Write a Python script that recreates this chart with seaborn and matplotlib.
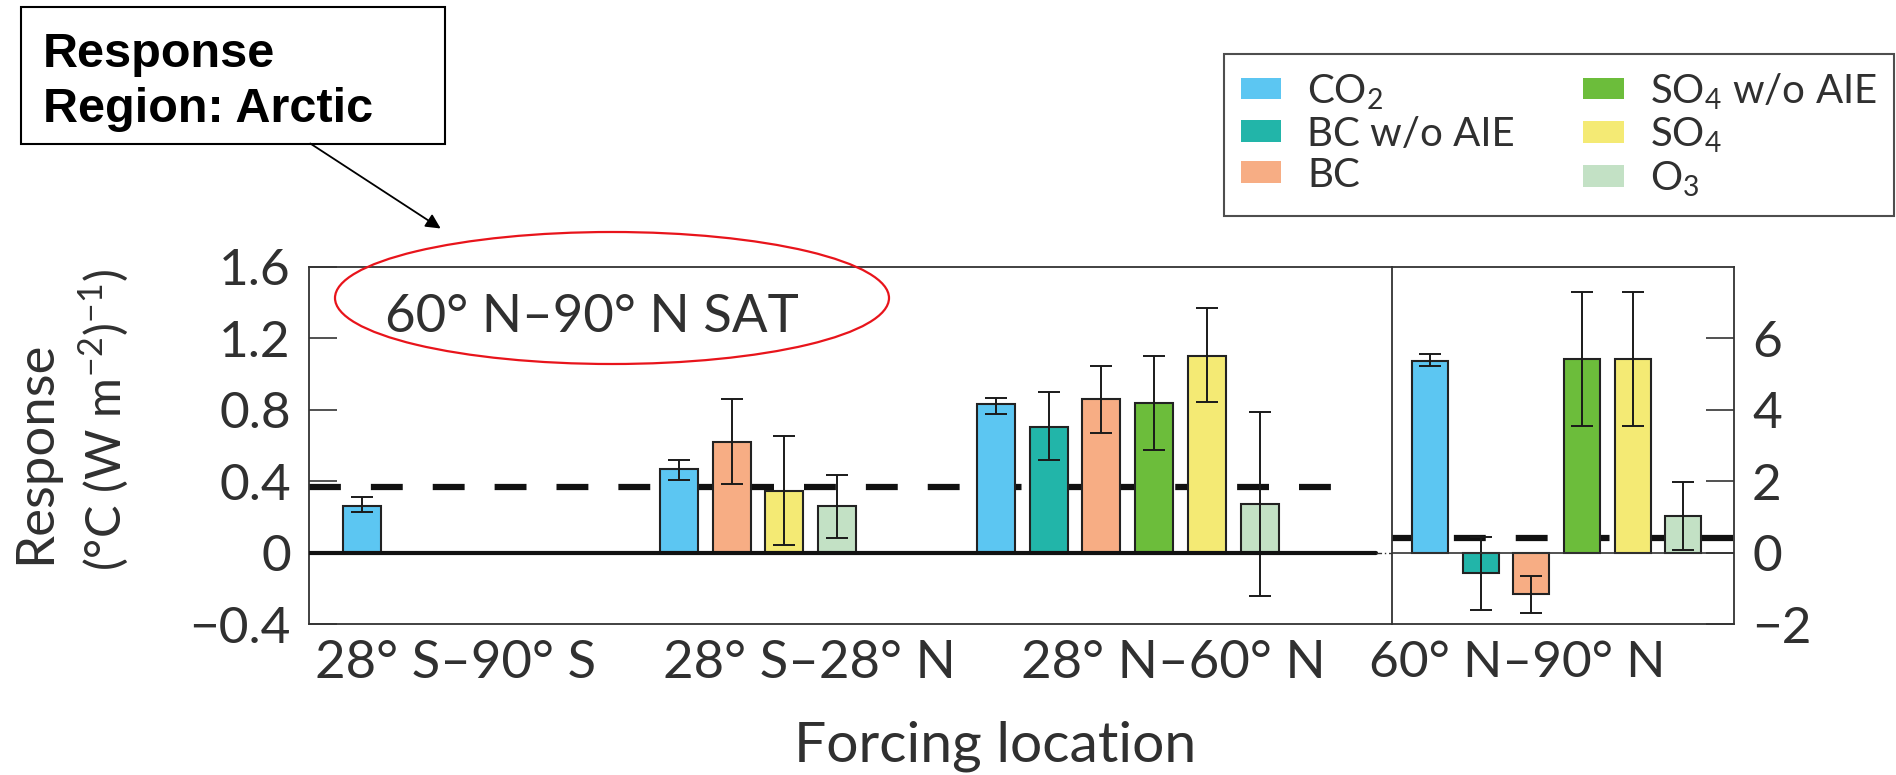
import numpy as np
import pandas as pd
import matplotlib
matplotlib.use("Agg")
import matplotlib.pyplot as plt
import seaborn as sns
from matplotlib.patches import Ellipse, FancyArrowPatch, Rectangle, Patch

# ---------------- data ----------------
series = ["CO2", "BC w/o AIE", "BC", "SO4 w/o AIE", "SO4", "O3"]
legend_labels = ["CO$_\\mathregular{2}$", "BC w/o AIE", "BC",
                 "SO$_\\mathregular{4}$ w/o AIE", "SO$_\\mathregular{4}$", "O$_\\mathregular{3}$"]
colors = ["#5cc6f2", "#22b5a9", "#f7ad84", "#6cbd3b", "#f4ea74", "#c3e1c5"]

regions = ["28° S–90° S", "28° S–28° N", "28° N–60° N", "60° N–90° N"]

# left panel (scale: °C (W m-2)-1)
left_group = [0, 1, 1, 1, 1, 2, 2, 2, 2, 2, 2]
left_series = ["CO2", "CO2", "BC", "SO4", "O3",
               "CO2", "BC w/o AIE", "BC", "SO4 w/o AIE", "SO4", "O3"]
left_value = [0.264, 0.466, 0.617, 0.344, 0.264, 0.829, 0.705, 0.857, 0.836, 1.099, 0.275]
left_low = [0.226, 0.404, 0.383, 0.043, 0.084, 0.776, 0.516, 0.668, 0.574, 0.845, -0.24]
left_high = [0.312, 0.516, 0.857, 0.655, 0.434, 0.866, 0.896, 1.045, 1.10, 1.37, 0.785]
left_mean = 0.368

# right panel (60N-90N forcing, right-hand scale)
right_series = series
right_value = [5.36, -0.555, -1.155, 5.41, 5.41, 1.035]
right_low = [5.22, -1.60, -1.69, 3.53, 3.53, 0.083]
right_high = [5.55, 0.43, -0.65, 7.29, 7.29, 1.99]
right_mean = 0.41

left_yticks = [-0.4, 0, 0.4, 0.8, 1.2, 1.6]
left_yticklabels = ["−0.4", "0", "0.4", "0.8", "1.2", "1.6"]
right_yticks = [-2, 0, 2, 4, 6]
right_yticklabels = ["−2", "0", "2", "4", "6"]
left_label_pos = [1.77, 8.47, 15.36]
right_label_pos = [1.72]

# ---------------- style ----------------
sns.set_theme(style="white")
plt.rcParams["font.family"] = ["Lato", "DejaVu Sans"]
plt.rcParams["font.weight"] = "normal"
plt.rcParams["mathtext.fontset"] = "custom"
plt.rcParams["mathtext.rm"] = "Lato"
plt.rcParams["axes.unicode_minus"] = True
txt_color = "#303030"

fig = plt.figure(figsize=(18.96, 7.75), dpi=100)
H = 775.0
W = 1896.0
bottom = (H - 624.3) / H
height = (624.3 - 266.5) / H
axL = fig.add_axes([309 / W, bottom, (1392 - 309) / W, height])
axR = fig.add_axes([1392 / W, bottom, (1734 - 1392) / W, height])

for ax in (axL, axR):
    for s in ax.spines.values():
        s.set_color("#333333")
        s.set_linewidth(1.3)

# ---------------- left panel ----------------
dfL = pd.DataFrame({"group": left_group, "series": left_series, "value": left_value,
                    "low": left_low, "high": left_high})
dfL["pos"] = dfL["group"] * 6 + dfL.groupby("group").cumcount()

axL.axhline(left_mean, xmin=0, xmax=0.958, color="#111111", lw=4.5,
            dashes=(5.1, 4.8), zorder=1)
sns.barplot(data=dfL, x="pos", y="value", hue="series", hue_order=series,
            palette=colors, native_scale=True, dodge=False, width=0.72,
            edgecolor="#222222", linewidth=1.5, errorbar=None, legend=False,
            saturation=1, ax=axL, zorder=2)
axL.errorbar(dfL["pos"], dfL["value"],
             yerr=[dfL["value"] - dfL["low"], dfL["high"] - dfL["value"]],
             fmt="none", ecolor="#1a1a1a", elinewidth=1.4, capsize=8, capthick=1.4,
             zorder=4)
axL.axhline(0, xmin=0, xmax=0.985, color="#111111", lw=3, zorder=5)
axL.axhline(0, xmin=0.985, xmax=1, color="#333333", lw=1, ls=(0, (4, 2, 1, 2)), zorder=5)
axL.set_xlim(-1.0, 19.5)
axL.set_ylim(-0.4, 1.6)
axL.set_yticks(left_yticks)
axL.set_yticklabels(left_yticklabels)
axL.set_xticks(left_label_pos)
axL.set_xticklabels(regions[:3])
axL.tick_params(axis="y", direction="in", length=20, width=1.2, color="#333333",
                labelsize=37, pad=13, labelcolor=txt_color, left=True)
axL.tick_params(axis="x", length=0, labelsize=38, pad=11, labelcolor=txt_color)
axL.set_xlabel("")
axL.set_ylabel("")
axL.spines["right"].set_visible(False)

# ---------------- right panel ----------------
dfR = pd.DataFrame({"series": right_series, "value": right_value,
                    "low": right_low, "high": right_high})
dfR["pos"] = np.arange(len(dfR))

axR.axhline(right_mean, color="#111111", lw=4.5, dashes=(5.1, 4.8), zorder=1)
sns.barplot(data=dfR, x="pos", y="value", hue="series", hue_order=series,
            palette=colors, native_scale=True, dodge=False, width=0.71,
            edgecolor="#222222", linewidth=1.5, errorbar=None, legend=False,
            saturation=1, ax=axR, zorder=2)
axR.errorbar(dfR["pos"], dfR["value"],
             yerr=[dfR["value"] - dfR["low"], dfR["high"] - dfR["value"]],
             fmt="none", ecolor="#1a1a1a", elinewidth=1.4, capsize=8, capthick=1.4,
             zorder=4)
axR.axhline(0, color="#333333", lw=1.2, zorder=5)
axR.set_xlim(-0.75, 6.0)
axR.set_ylim(-2, 8)
axR.yaxis.tick_right()
axR.set_yticks(right_yticks)
axR.set_yticklabels(right_yticklabels)
axR.set_xticks(right_label_pos)
axR.set_xticklabels(regions[3:])
axR.tick_params(axis="y", direction="in", length=20, width=1.2, color="#333333",
                labelsize=37, pad=13, labelcolor=txt_color, right=True, left=False)
axR.tick_params(axis="x", length=0, labelsize=37, pad=11, labelcolor=txt_color)
axR.set_xlabel("")
axR.set_ylabel("")

# ---------------- axis titles ----------------
fig.text(995 / W, (H - 762) / H, "Forcing location", ha="center", va="baseline",
         fontsize=41, color=txt_color)
fig.text(36 / W, 1 - 452 / H, "Response", rotation=90, ha="center", va="center",
         fontsize=38, color=txt_color)
fig.text(104 / W, 1 - 420 / H,
         "(°C (W m$^{\\mathregular{-2}}$)$^{\\mathregular{-1}}$)",
         rotation=90, ha="center", va="center", fontsize=35, color=txt_color)

# ---------------- legend ----------------
handles = [Patch(facecolor=c, edgecolor="none") for c in colors]
leg = fig.legend(handles, legend_labels, ncol=2, loc="upper left",
                 bbox_to_anchor=(1224 / W, 1 - 54 / H), bbox_transform=fig.transFigure,
                 frameon=True, fancybox=False, fontsize=29, handlelength=1.0,
                 handleheight=0.45, handletextpad=0.65, columnspacing=1.7,
                 labelspacing=0.1, borderpad=0.42, borderaxespad=0)
leg.get_frame().set_edgecolor("#222222")
leg.get_frame().set_linewidth(1.5)
for t in leg.get_texts():
    t.set_color(txt_color)

# ---------------- annotations ----------------
fig.patches.append(Rectangle((21 / W, 1 - 144 / H), (445 - 21) / W, (144 - 7) / H,
                             transform=fig.transFigure, fill=False,
                             edgecolor="black", lw=1.5))
fig.text(43 / W, 1 - 66.7 / H, "Response", ha="left", va="baseline",
         fontsize=35, fontweight="bold", family=["Liberation Sans", "DejaVu Sans"],
         color="black")
fig.text(43 / W, 1 - 121.7 / H, "Region: Arctic", ha="left", va="baseline",
         fontsize=35, fontweight="bold", family=["Liberation Sans", "DejaVu Sans"],
         color="black")
fig.patches.append(FancyArrowPatch((308 / W, 1 - 142 / H), (443 / W, 1 - 230 / H),
                                   transform=fig.transFigure, arrowstyle="-|>",
                                   mutation_scale=22, lw=1.3, color="black"))
fig.patches.append(Ellipse((612 / W, 1 - 298 / H), 554 / W, 132 / H,
                           transform=fig.transFigure, fill=False,
                           edgecolor="#e8141b", lw=1.6))
fig.text(592 / W, 1 - 332 / H, "60° N–90° N SAT", ha="center", va="baseline",
         fontsize=38, color=txt_color)

fig.savefig("out.png", dpi=100)
